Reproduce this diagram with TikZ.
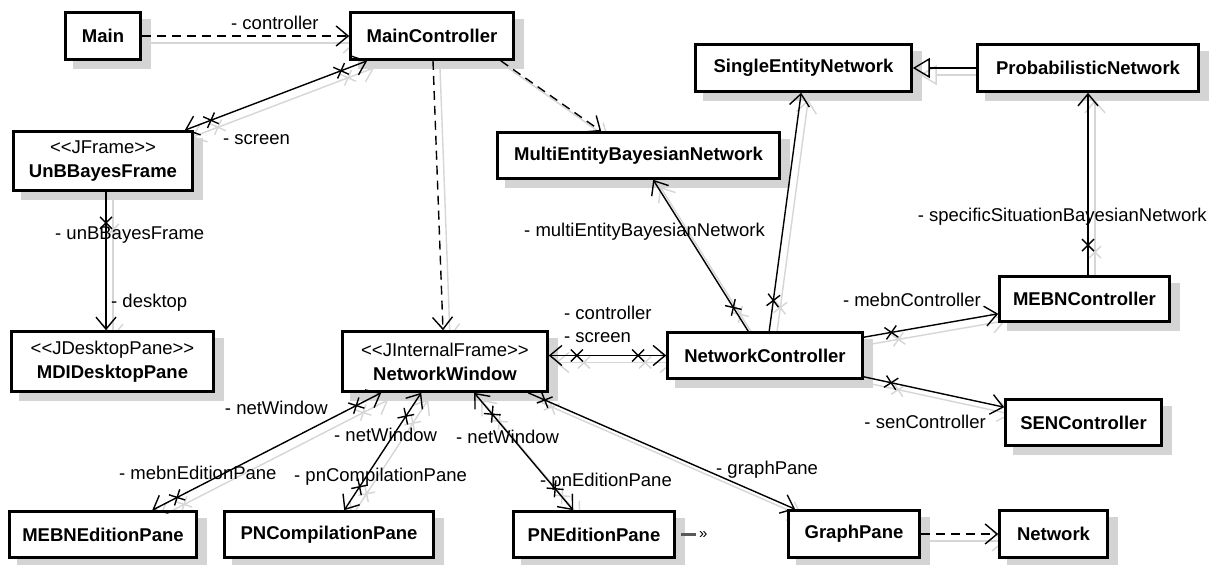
\documentclass[tikz,border=0pt]{standalone}
\usepackage{fontspec}
\newfontfamily\umlf{Liberation Sans}
\usetikzlibrary{arrows.meta,decorations.markings,calc}
\pgfdeclarelayer{bg}
\pgfsetlayers{bg,main}
\tikzset{
 cls/.style={draw, line width=2.6pt, fill=white, inner sep=0pt, align=center,
   font=\umlf\fontsize{18.5}{22}\selectfont\bfseries},
 boxshadow/.style={fill=black!17},
 lbl/.style={inner sep=0pt, font=\umlf\fontsize{18.5}{22}\selectfont},
 assoc/.style={line width=1.4pt},
 arr/.style={-{Straight Barb[length=12pt,width=20pt]}},
 both/.style={{Straight Barb[length=12pt,width=20pt]}-{Straight Barb[length=12pt,width=20pt]}},
 xs/.style={postaction={decorate,decoration={markings,mark=at position #1 with {\draw[solid,-] (-6pt,-6pt)--(6pt,6pt) (-6pt,6pt)--(6pt,-6pt);}}}},
 xs/.default=28pt,
 xe/.style={postaction={decorate,decoration={markings,mark=at position -#1 with {\draw[solid,-] (-6pt,-6pt)--(6pt,6pt) (-6pt,6pt)--(6pt,-6pt);}}}},
 xe/.default=28pt,
 dep/.style={dash pattern=on 9pt off 6pt},
 gen/.style={-{Triangle[open,length=17pt,width=20pt]}},
}
\newcommand\umlconns{%
 \draw[assoc,dep,arr] (main.east) -- (mc.west);
 \draw[assoc,both,xs,xe] ($(mc.south west)+(18,0)$) -- ($(ubf.north east)+(-9,0)$);
 \draw[assoc,dep,arr] ($(mc.south)+(1,0)$) -- ($(nw.north)+(-2,0)$);
 \draw[assoc,dep,arr] ($(mc.south east)+(-14,0)$) -- ($(meb.north west)+(105,0)$);
 \draw[assoc,arr,xs=31pt] ($(ubf.south)+(3,0)$) -- ($(mdi.north)+(-6.5,0)$);
 \draw[assoc,both,xs,xe] (nc.west -| nw.east) -- (nc.west);
 \draw[assoc,arr,xs] ($(nc.north west)+(82,0)$) -- ($(meb.south west)+(157,0)$);
 \draw[assoc,arr,xs=31pt] ($(nc.north west)+(103,0)$) -- ($(sen.south west)+(107,0)$);
 \draw[assoc,arr,xs] ($(nc.north east)+(0,6)$) -- ($(mebnc.south west)+(0,-9)$);
 \draw[assoc,arr,xs] ($(nc.south east)+(0,-3)$) -- ($(senc.north west)+(0,9)$);
 \draw[assoc,arr,xs=30pt] ($(mebnc.north)+(3.5,0)$) -- (pn.south);
 \draw[assoc,gen] (pn.west) -- (sen.east);
 \draw[assoc,both,xs,xe] ($(nw.south west)+(40,0)$) -- ($(mep.north west)+(144,0)$);
 \draw[assoc,both,xs,xe] ($(nw.south west)+(80,0)$) -- ($(pcp.north west)+(121,0)$);
 \draw[assoc,both,xs,xe] ($(nw.south west)+(133,0)$) -- ($(pep.north west)+(61,0)$);
 \draw[assoc,arr,xs=18pt] ($(nw.south west)+(187,0)$) -- ($(gp.north west)+(8,0)$);
 \draw[assoc,dep,arr] (gp.east) -- (net.west);
}
\begin{document}
\begin{tikzpicture}[x=1pt,y=-1pt]
\useasboundingbox (0,0) rectangle (1211,565);
% classes
\node[cls, minimum width=75, minimum height=47] (main) at (103,36) {Main};
\node[cls, minimum width=163, minimum height=47] (mc) at (432,36) {MainController};
\node[cls, minimum width=179, minimum height=59] (ubf) at (103,161) {{\mdseries <\kern0pt<JFrame>\kern0pt>}\\[2pt]UnBBayesFrame};
\node[cls, minimum width=282, minimum height=46] (meb) at (638.5,155.5) {MultiEntityBayesianNetwork};
\node[cls, minimum width=216, minimum height=47] (sen) at (803.5,68) {SingleEntityNetwork};
\node[cls, minimum width=221, minimum height=47] (pn) at (1088,68) {ProbabilisticNetwork};
\node[cls, minimum width=202, minimum height=60] (mdi) at (112.5,361.5) {{\mdseries <\kern0pt<JDesktopPane>\kern0pt>}\\[2pt]MDIDesktopPane};
\node[cls, minimum width=205, minimum height=60] (nw) at (445,361.5) {{\mdseries <\kern0pt<JInternalFrame>\kern0pt>}\\[2pt]NetworkWindow};
\node[cls, minimum width=195, minimum height=46] (nc) at (765,355.5) {NetworkController};
\node[cls, minimum width=170, minimum height=45] (mebnc) at (1084.5,299) {MEBNController};
\node[cls, minimum width=156, minimum height=46] (senc) at (1083.5,422.5) {SENController};
\node[cls, minimum width=187, minimum height=46] (mep) at (103,534.5) {MEBNEditionPane};
\node[cls, minimum width=209, minimum height=46] (pcp) at (329,534.5) {PNCompilationPane};
\node[cls, minimum width=161, minimum height=46] (pep) at (594,534.5) {PNEditionPane};
\node[cls, minimum width=131, minimum height=47] (gp) at (854,534) {GraphPane};
\node[cls, minimum width=108, minimum height=47] (net) at (1053.5,534) {Network};
% shadows of boxes and connectors
\begin{pgfonlayer}{bg}
 \fill[white] (0,0) rectangle (1211,565);
 \foreach \n in {main,mc,ubf,meb,sen,pn,mdi,nw,nc,mebnc,senc,mep,pcp,pep,gp,net}
   \fill[boxshadow] ($(\n.north east)+(9,8)$) rectangle ($(\n.south west)+(9,8)$);
 \begin{scope}[transform canvas={shift={(7pt,-7pt)}}, color=black!16, dep/.style={}]
  \umlconns
 \end{scope}
\end{pgfonlayer}
% connectors
\umlconns
\draw[line width=3pt, black!65] ($(pep.east)+(5,0)$) -- ($(pep.east)+(20,0)$);
\node[lbl, font=\umlf\fontsize{15}{17}\selectfont, anchor=west] (pepmore) at ($(pep.east)+(23,1)$) {»};
% labels
\node[lbl, anchor=west] (l1) at (231,23) {- controller};
\node[lbl, anchor=west] (l2) at (223,140) {- screen};
\node[lbl, anchor=west] (l3) at (55,235) {- unBBayesFrame};
\node[lbl, anchor=west] (l4) at (111,303) {- desktop};
\node[lbl, anchor=east] (l5) at (765,232) {- multiEntityBayesianNetwork};
\node[lbl, anchor=east] (l6) at (1207,217) {- specificSituationBayesianNetwork};
\node[lbl, anchor=east] (l7) at (981,300) {- mebnController};
\node[lbl, anchor=west] (l8) at (564,313) {- controller};
\node[lbl, anchor=west] (l9) at (564,338) {- screen};
\node[lbl, anchor=east] (l10) at (986,422) {- senController};
\node[lbl, anchor=east] (l11) at (328,408) {- netWindow};
\node[lbl, anchor=west] (l12) at (119,473) {- mebnEditionPane};
\node[lbl, anchor=west] (l13) at (334,435) {- netWindow};
\node[lbl, anchor=west] (l14) at (294,477) {- pnCompilationPane};
\node[lbl, anchor=west] (l15) at (456,437) {- netWindow};
\node[lbl, anchor=west] (l16) at (540,482) {- pnEditionPane};
\node[lbl, anchor=west] (l17) at (716,470) {- graphPane};
\end{tikzpicture}
\end{document}
